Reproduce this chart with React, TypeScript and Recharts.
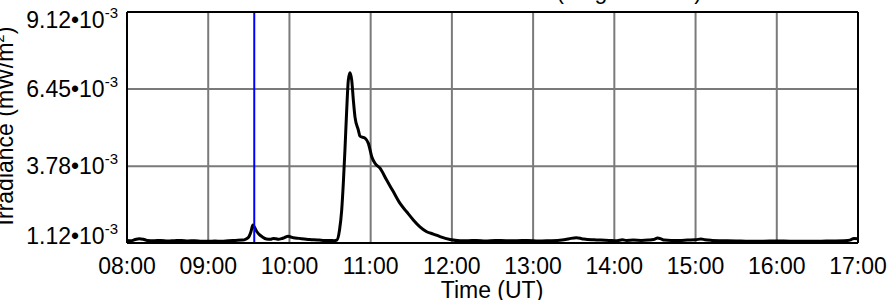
import React from 'react';
import {
  LineChart,
  Line,
  XAxis,
  YAxis,
  CartesianGrid,
  ReferenceLine,
  Customized
} from 'recharts';

// minutes after 08:00 UT
const timeMin = [
  0, 3, 6, 9, 12, 15, 20, 25, 30, 35, 40, 45, 50, 55, 60, 65, 70, 75, 80, 85,
  88, 90, 91.5, 93, 94, 96, 98, 100, 103, 106, 108, 110, 112, 114, 116, 119, 121, 123,
  127, 131, 135, 138, 142, 146, 150, 153, 155, 157, 158.6, 159.8, 161, 162.3, 163.5,
  164.7, 166, 167.2, 168.4, 170.9, 172.1, 175.8, 178.3, 180.8, 183.2, 186.9, 191.8,
  196.7, 201.7, 206.6, 211.5, 216.4, 221.4, 226.3, 231.2, 238.6, 246, 252, 258, 265,
  272, 280, 288, 296, 304, 312, 318, 324, 328, 332, 336, 340, 345, 350, 356, 362, 366,
  369, 374, 380, 385, 389, 392, 394, 397, 402, 408, 414, 420, 424, 427, 432, 440, 450,
  460, 470, 480, 490, 500, 510, 520, 530, 534, 537, 540
];

// irradiance in units of 1e-3 mW/m^2
const irradiance = [
  1.21, 1.2, 1.24, 1.27, 1.25, 1.21, 1.2, 1.21, 1.19, 1.2, 1.21, 1.19, 1.2, 1.18, 1.18, 1.19, 1.18, 1.2, 1.21, 1.22,
  1.26, 1.33, 1.5, 1.74, 1.68, 1.51, 1.4, 1.33, 1.26, 1.25, 1.28, 1.27, 1.25, 1.27, 1.3, 1.35, 1.33, 1.3,
  1.28, 1.26, 1.24, 1.23, 1.22, 1.21, 1.21, 1.2, 1.22, 1.57, 2.26, 3.19, 4.34, 5.73, 6.76,
  7.02, 6.76, 6.07, 5.49, 5.03, 4.82, 4.75, 4.57, 4.11, 3.88, 3.71, 3.3,
  2.9, 2.49, 2.2, 1.92, 1.68, 1.51, 1.43, 1.34, 1.24, 1.2, 1.2, 1.21, 1.19,
  1.21, 1.2, 1.2, 1.21, 1.19, 1.2, 1.21, 1.24, 1.28, 1.3, 1.27, 1.24, 1.23, 1.22, 1.21, 1.2, 1.23,
  1.21, 1.22, 1.21, 1.22, 1.24, 1.29, 1.27, 1.22, 1.21, 1.21, 1.22, 1.23, 1.26, 1.23, 1.21, 1.2, 1.19,
  1.18, 1.18, 1.19, 1.18, 1.18, 1.18, 1.19, 1.2, 1.22, 1.28, 1.27
];

const hourTicks = [0, 60, 120, 180, 240, 300, 360, 420, 480, 540];
const hourLabels = ['08:00', '09:00', '10:00', '11:00', '12:00', '13:00', '14:00', '15:00', '16:00', '17:00'];
const quarterTicks = hourTicks.flatMap((t) => [t, t + 15, t + 30, t + 45]).filter((t) => t <= 540);

const yTicks = [1.12, 3.78, 6.45, 9.12];
const yTickLabels = ['1.12', '3.78', '6.45', '9.12'];
const yMinorTicks = [1.785, 2.45, 3.115, 4.4475, 5.115, 5.7825, 7.1175, 7.785, 8.4525];

const markerTime = 94; // 09:34 UT

const data = timeMin.map((t, i) => ({ t, v: irradiance[i] }));

const FONT = '"Liberation Sans", Arial, Helvetica, sans-serif';

const YTick = (props: any) => {
  const { x, y, payload } = props;
  const i = yTicks.indexOf(payload.value);
  // first / last label pulled inside the frame like the original
  const shift = i === 0 ? -7 : i === yTicks.length - 1 ? 8 : 0;
  return (
    <text x={x} y={y + shift + 8} textAnchor="end" fill="#000" fontSize={23} fontFamily={FONT}>
      <tspan>{yTickLabels[i]}•10</tspan>
      <tspan dy={-10} fontSize={15}>-3</tspan>
    </text>
  );
};

const Labels = () => (
  <g fontFamily={FONT} fill="#000">
    <text x={702} y={-1} textAnchor="end" fontSize={23}>GOES XRS 0.1-0.8 nm (long channel)</text>
    <text x={492} y={298} textAnchor="middle" fontSize={23}>Time (UT)</text>
    <text transform="translate(13, 126) rotate(-90)" textAnchor="middle" fontSize={23}>
      <tspan>Irradiance (mW/m</tspan>
      <tspan dy={-9} fontSize={15}>2</tspan>
      <tspan dy={9}>)</tspan>
    </text>
  </g>
);

export default function App() {
  return (
    <div style={{ width: 887, height: 300, background: '#fff' }}>
      <style>{'body{margin:0}'}</style>
      <LineChart
        width={887}
        height={300}
        data={data}
        margin={{ top: 12, right: 29, bottom: 0, left: 0 }}
      >
        <CartesianGrid xAxisId="main" yAxisId="main" stroke="#7a7a7a" strokeWidth={2} />
        <XAxis
          xAxisId="main"
          dataKey="t"
          type="number"
          domain={[0, 540]}
          ticks={hourTicks}
          interval={0}
          tickFormatter={(v: number) => hourLabels[hourTicks.indexOf(v)]}
          height={57}
          tickSize={0}
          tickMargin={15}
          tickLine={false}
          axisLine={{ stroke: '#000', strokeWidth: 2 }}
          tick={{ fill: '#000', fontSize: 23, fontFamily: FONT }}
          allowDataOverflow
        />
        <XAxis
          xAxisId="minB"
          type="number"
          domain={[0, 540]}
          ticks={quarterTicks}
          interval={0}
          mirror
          tick={false}
          tickSize={4}
          tickLine={{ stroke: '#000', strokeWidth: 2 }}
          axisLine={false}
        />
        <XAxis
          xAxisId="top"
          orientation="top"
          type="number"
          domain={[0, 540]}
          ticks={quarterTicks}
          interval={0}
          mirror
          tick={false}
          tickSize={4}
          tickLine={{ stroke: '#000', strokeWidth: 2 }}
          axisLine={{ stroke: '#000', strokeWidth: 2 }}
        />
        <YAxis
          yAxisId="main"
          type="number"
          domain={[1.12, 9.12]}
          ticks={yTicks}
          interval={0}
          width={127}
          tickSize={0}
          tickMargin={9}
          tickLine={false}
          axisLine={{ stroke: '#000', strokeWidth: 2 }}
          tick={<YTick />}
          allowDataOverflow
        />
        <YAxis
          yAxisId="minL"
          type="number"
          domain={[1.12, 9.12]}
          ticks={yMinorTicks}
          interval={0}
          mirror
          tick={false}
          tickSize={7}
          tickLine={{ stroke: '#000', strokeWidth: 2 }}
          axisLine={false}
        />
        <YAxis
          yAxisId="right"
          orientation="right"
          type="number"
          domain={[1.12, 9.12]}
          ticks={yMinorTicks}
          interval={0}
          mirror
          tick={false}
          tickSize={8}
          tickLine={{ stroke: '#000', strokeWidth: 2 }}
          axisLine={{ stroke: '#000', strokeWidth: 2 }}
        />
        <Line
          xAxisId="main"
          yAxisId="main"
          dataKey="v"
          type="monotone"
          stroke="#000"
          strokeWidth={3}
          dot={false}
          isAnimationActive={false}
        />
        <ReferenceLine
          xAxisId="main"
          yAxisId="main"
          x={markerTime}
          stroke="#0000ff"
          strokeWidth={2}
        />
        <Customized component={Labels} />
      </LineChart>
    </div>
  );
}
